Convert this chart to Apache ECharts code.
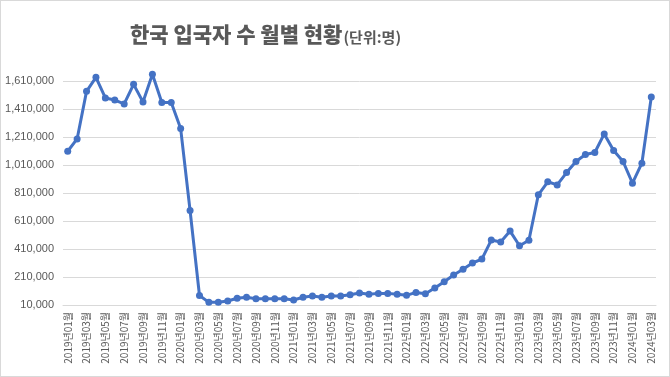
<!DOCTYPE html>
<html>
<head>
<meta charset="utf-8">
<script src="https://cdn.jsdelivr.net/npm/echarts@6/dist/echarts.min.js"></script>
<style>
  html, body { margin: 0; padding: 0; background: #fff; }
  #chart { width: 668px; height: 375px; border: 1px solid #d9d9d9; }
</style>
</head>
<body>
<div id="chart"></div>
<script>
var years = [2019, 2020, 2021, 2022, 2023, 2024];
var monthsPerYear = [12, 12, 12, 12, 12, 3];

var categories = [];
years.forEach(function (y, i) {
    for (var m = 1; m <= monthsPerYear[i]; m++) {
        categories.push(y + '년' + (m < 10 ? '0' + m : m) + '월');
    }
});

var visitors = [
    1108000, 1196000, 1536000, 1636000, 1489000, 1474000, 1446000, 1586000, 1460000, 1658000, 1456000, 1456000,
    1270000, 685000, 78000, 29000, 29000, 39000, 58000, 65000, 55000, 55000, 55000, 55000,
    46000, 65000, 74000, 65000, 74000, 74000, 83000, 95000, 86000, 93000, 93000, 86000,
    79000, 100000, 90000, 131000, 176000, 224000, 265000, 310000, 338000, 474000, 460000, 538000,
    433000, 472000, 797000, 890000, 868000, 956000, 1035000, 1085000, 1099000, 1232000, 1113000, 1035000,
    880000, 1023000, 1496000
];

var yMin = 10000;
var yMax = 1610000;
var yStep = 200000;

var chart = echarts.init(document.getElementById('chart'));

var option = {
    animation: false,
    title: {
        text: '{main|한국 입국자 수 월별 현황}{unit|(단위:명)}',
        left: 124,
        top: 18,
        textStyle: {
            rich: {
                main: {
                    fontFamily: 'Noto Sans CJK KR',
                    fontSize: 21,
                    fontWeight: 900,
                    color: '#595959',
                    verticalAlign: 'bottom'
                },
                unit: {
                    fontFamily: 'Noto Sans CJK KR',
                    fontSize: 15,
                    color: '#595959',
                    verticalAlign: 'bottom',
                    padding: [0, 0, 0, 1]
                }
            }
        }
    },
    grid: {
        left: 62,
        right: 13,
        top: 80,
        bottom: 71,
        containLabel: false
    },
    xAxis: {
        type: 'category',
        data: categories,
        boundaryGap: true,
        axisLine: { lineStyle: { color: '#d9d9d9' } },
        axisTick: { show: false },
        axisLabel: {
            rotate: 90,
            interval: 1,
            fontSize: 10,
            fontFamily: 'Noto Sans CJK KR',
            color: '#595959',
            margin: 7
        }
    },
    yAxis: {
        type: 'value',
        min: yMin,
        max: yMax,
        interval: yStep,
        axisLine: { show: false },
        axisTick: { show: false },
        splitLine: { lineStyle: { color: '#d9d9d9' } },
        axisLabel: {
            fontSize: 11,
            fontFamily: 'Liberation Sans',
            color: '#595959',
            margin: 9,
            formatter: function (v) {
                return v.toLocaleString('en-US');
            }
        }
    },
    series: [
        {
            name: '입국자 수',
            type: 'line',
            data: visitors,
            clip: false,
            symbol: 'circle',
            symbolSize: 7,
            showSymbol: true,
            showAllSymbol: true,
            lineStyle: { color: '#4472C4', width: 3 },
            itemStyle: { color: '#4472C4' }
        }
    ]
};

chart.setOption(option);
</script>
</body>
</html>
